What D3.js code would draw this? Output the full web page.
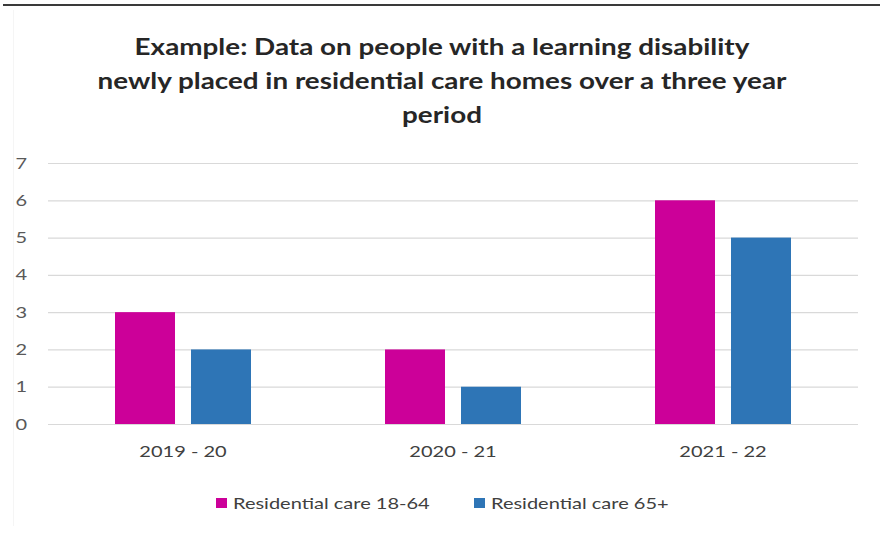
<!DOCTYPE html>
<html>
<head>
<meta charset="utf-8">
<script src="https://cdn.jsdelivr.net/npm/d3@7"></script>
<style>
  html, body { margin: 0; padding: 0; background: #fff; }
  svg { display: block; font-family: Lato, "Open Sans", sans-serif; }
</style>
</head>
<body>
<svg id="chart" width="882" height="534"></svg>
<script>
// Chart data
const titleLines = [
  "Example: Data on people with a learning disability",
  "newly placed in residential care homes over a three year",
  "period"
];
const categories = ["2019 - 20", "2020 - 21", "2021 - 22"];
const seriesNames = ["Residential care 18-64", "Residential care 65+"];
const care1864 = [3, 2, 6];
const care65plus = [2, 1, 5];
const yTicks = [0, 1, 2, 3, 4, 5, 6, 7];
const seriesColors = ["#CC0099", "#2E75B6"];

const svg = d3.select("#chart");
const STRETCH = 1.25; // the lettering is set wide

// Widen each text run horizontally by the given factor
function widen(sel, k) {
  sel.each(function () {
    const w = this.getComputedTextLength();
    d3.select(this).attr("textLength", w * k).attr("lengthAdjust", "spacingAndGlyphs");
  });
}

// Frame: heavy rule along the top, faint edge on the left
svg.append("line")
  .attr("x1", 3).attr("x2", 880).attr("y1", 5).attr("y2", 5)
  .attr("stroke", "#3a3a3a").attr("stroke-width", 2.2);
svg.append("line")
  .attr("x1", 13.5).attr("x2", 13.5).attr("y1", 10).attr("y2", 526)
  .attr("stroke", "#f5f5f5").attr("stroke-width", 1);

// Title
const title = svg.append("text")
  .attr("text-anchor", "middle")
  .attr("font-weight", "bold")
  .attr("font-size", 22)
  .attr("fill", "#262626");
titleLines.forEach((t, i) => {
  title.append("tspan").attr("x", 442).attr("y", 55 + i * 34).text(t);
});
widen(title.selectAll("tspan"), 1.265);

// Scales
const plot = { left: 48, right: 858, top: 163, bottom: 424 };
const groupWidth = 136;
const x0 = d3.scaleBand().domain(categories).range([plot.left, plot.right]);
const x1 = d3.scaleBand().domain(seriesNames).range([0, groupWidth]).paddingInner(16 / 76);
const y = d3.scaleLinear().domain([0, 7]).range([plot.bottom, plot.top]);

// Gridlines and y labels
const yAxis = d3.axisLeft(y).tickValues(yTicks).tickFormat(d3.format("d"))
  .tickSize(-(plot.right - plot.left)).tickPadding(21);
const gy = svg.append("g").attr("transform", `translate(${plot.left},0)`).call(yAxis);
gy.select(".domain").remove();
gy.selectAll(".tick line").attr("stroke", "#d9d9d9").attr("stroke-width", 1.2);
gy.selectAll(".tick text")
  .attr("fill", "#595959").attr("font-size", 16)
  .attr("font-family", "Lato, sans-serif");
widen(gy.selectAll(".tick text"), STRETCH);

// Bars
const rows = categories.map((c, i) => ({ cat: c, vals: [care1864[i], care65plus[i]] }));
const groups = svg.append("g").selectAll("g").data(rows).join("g")
  .attr("transform", d => `translate(${x0(d.cat) + (x0.bandwidth() - groupWidth) / 2},0)`);
groups.selectAll("rect")
  .data(d => d.vals.map((v, j) => ({ name: seriesNames[j], v, j })))
  .join("rect")
  .attr("x", d => x1(d.name))
  .attr("width", x1.bandwidth())
  .attr("y", d => y(d.v))
  .attr("height", d => y(0) - y(d.v))
  .attr("fill", d => seriesColors[d.j]);

// Category labels
const xAxis = d3.axisBottom(x0).tickSize(0).tickPadding(22);
const gx = svg.append("g").attr("transform", `translate(0,${plot.bottom})`).call(xAxis);
gx.select(".domain").remove();
gx.selectAll(".tick text")
  .attr("fill", "#404040").attr("font-size", 16)
  .attr("font-family", "Lato, sans-serif");
widen(gx.selectAll(".tick text"), STRETCH);

// Legend
const legendX = [216, 474];
const legend = svg.append("g").selectAll("g").data(seriesNames).join("g")
  .attr("transform", (d, i) => `translate(${legendX[i]},498)`);
legend.append("rect")
  .attr("width", 11).attr("height", 10)
  .attr("fill", (d, i) => seriesColors[i]);
legend.append("text")
  .attr("x", 17).attr("y", 10.5)
  .attr("font-size", 16).attr("fill", "#404040")
  .text(d => d);
widen(legend.selectAll("text"), STRETCH);
</script>
</body>
</html>
